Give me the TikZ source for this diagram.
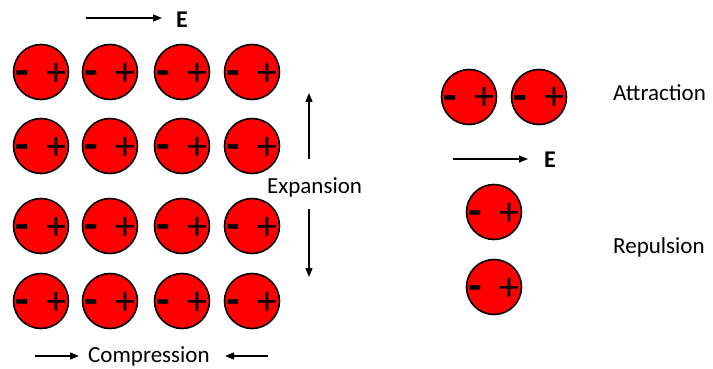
\documentclass[tikz,border=0pt]{standalone}
\usepackage{fontspec}
\setmainfont{Carlito}
\usetikzlibrary{arrows.meta}
\newcommand\molecule[3]{%
  \node[mol] (#1) at (#2,#3) {};
  \node[msgn] (#1m) at (#2-19,#3+13.5) {-};
  \node[psgn] (#1p) at (#2+15,#3+13) {+};
}
\begin{document}
\begin{tikzpicture}[x=1pt,y=-1pt,
  mol/.style={circle,draw=black,line width=1.6pt,fill=red,minimum size=55pt,inner sep=0pt},
  msgn/.style={font=\bfseries\fontsize{44}{44}\selectfont,inner sep=0pt,anchor=base},
  psgn/.style={font=\fontsize{40}{40}\selectfont,inner sep=0pt,anchor=base},
  lbl/.style={font=\fontsize{23}{23}\selectfont,inner sep=0pt,anchor=base west},
  efield/.style={font=\bfseries\fontsize{24}{24}\selectfont,inner sep=0pt,anchor=base west},
  arr/.style={line width=1.4pt,-{Triangle[length=9pt,width=7pt]}}]
\useasboundingbox (0,0) rectangle (713,369);
% grid
\molecule{g11}{41}{72}
\molecule{g12}{110}{72}
\molecule{g13}{182}{72}
\molecule{g14}{252}{72}
\molecule{g21}{41}{146}
\molecule{g22}{110}{146}
\molecule{g23}{182}{146}
\molecule{g24}{252}{146}
\molecule{g31}{41}{226}
\molecule{g32}{110}{226}
\molecule{g33}{182}{226}
\molecule{g34}{252}{226}
\molecule{g41}{41}{301}
\molecule{g42}{110}{301}
\molecule{g43}{182}{301}
\molecule{g44}{252}{301}
% right side
\molecule{a1}{469}{97}
\molecule{a2}{539}{97}
\molecule{r1}{494}{212}
\molecule{r2}{494}{287}
% labels
\node[efield] (etop) at (176,28) {E};
\node[efield] (eright) at (544,167) {E};
\node[lbl] (exp) at (267,193) {Expansion};
\node[lbl] (comp) at (88,362) {Compression};
\node[lbl] (attr) at (613,100) {Attraction};
\node[lbl] (rep) at (613,253) {Repulsion};
% arrows
\coordinate (e1s) at (86,18);
\coordinate (e1e) at (162,18);
\draw[arr] (e1s) -- (e1e);
\coordinate (e2s) at (453,159);
\coordinate (e2e) at (528,159);
\draw[arr] (e2s) -- (e2e);
\coordinate (xus) at (309,159);
\coordinate (xue) at (309,93);
\draw[arr] (xus) -- (xue);
\coordinate (xds) at (309,209);
\coordinate (xde) at (309,277);
\draw[arr] (xds) -- (xde);
\coordinate (cls) at (35,356);
\coordinate (cle) at (79,356);
\draw[arr] (cls) -- (cle);
\coordinate (crs) at (268,356);
\coordinate (cre) at (225,356);
\draw[arr] (crs) -- (cre);
\end{tikzpicture}
\end{document}
